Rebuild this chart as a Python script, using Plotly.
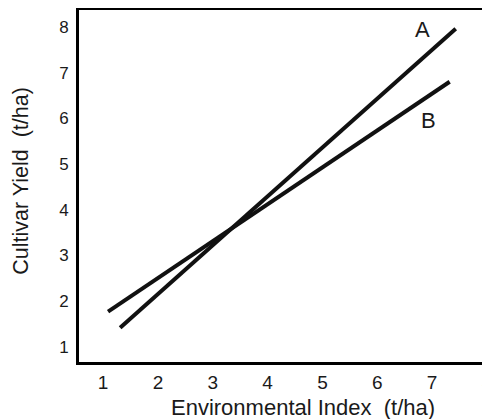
import plotly.graph_objects as go

env_a = [1.31, 7.43]
yield_a = [1.42, 7.96]
env_b = [1.09, 7.32]
yield_b = [1.77, 6.80]
labels = ["A", "B"]
label_x = [6.83, 6.94]
label_y = [7.94, 5.95]
x_ticks = [1, 2, 3, 4, 5, 6, 7, 8]
y_ticks = [1, 2, 3, 4, 5, 6, 7, 8]

FONT = "Liberation Sans, Arial, sans-serif"
TXT = "#1a1a1a"

fig = go.Figure()
fig.add_trace(go.Scatter(x=env_a, y=yield_a, mode="lines",
                         line=dict(color="#111", width=4), showlegend=False))
fig.add_trace(go.Scatter(x=env_b, y=yield_b, mode="lines",
                         line=dict(color="#111", width=4), showlegend=False))
for t, lx, ly in zip(labels, label_x, label_y):
    fig.add_annotation(x=lx, y=ly, text=t, showarrow=False,
                       font=dict(family=FONT, size=22, color=TXT))

fig.add_annotation(xref="paper", yref="paper", x=0.55, y=-0.128, yanchor="middle",
                   text="Environmental Index  (t/ha)", showarrow=False,
                   font=dict(family=FONT, size=22, color=TXT))
fig.add_annotation(xref="paper", yref="paper", x=-0.143, y=0.514, textangle=-90,
                   xanchor="center", yanchor="middle",
                   text="Cultivar Yield  (t/ha)", showarrow=False,
                   font=dict(family=FONT, size=21.5, color=TXT))

fig.update_layout(
    template="none",
    width=490, height=419,
    margin=dict(l=71, r=11, t=2, b=65, autoexpand=False),
    paper_bgcolor="white", plot_bgcolor="white",
    font=dict(family=FONT, size=17, color=TXT),
    xaxis=dict(range=[0.56, 8.0005], tickvals=x_ticks, showgrid=False, zeroline=False,
               showline=True, linecolor="black", linewidth=3, mirror=True,
               ticks="", ticklen=0, automargin=False, ticklabelstandoff=1,
               ticklabeloverflow="allow",
               tickfont=dict(family=FONT, size=19, color=TXT)),
    yaxis=dict(range=[0.67, 8.37], tickvals=y_ticks, showgrid=False, zeroline=False,
               showline=True, linecolor="black", linewidth=3, mirror=True,
               ticks="", ticklen=0, automargin=False, ticklabelstandoff=4,
               ticklabeloverflow="allow",
               tickfont=dict(family=FONT, size=17, color=TXT)),
)
fig.write_html("out.html")
